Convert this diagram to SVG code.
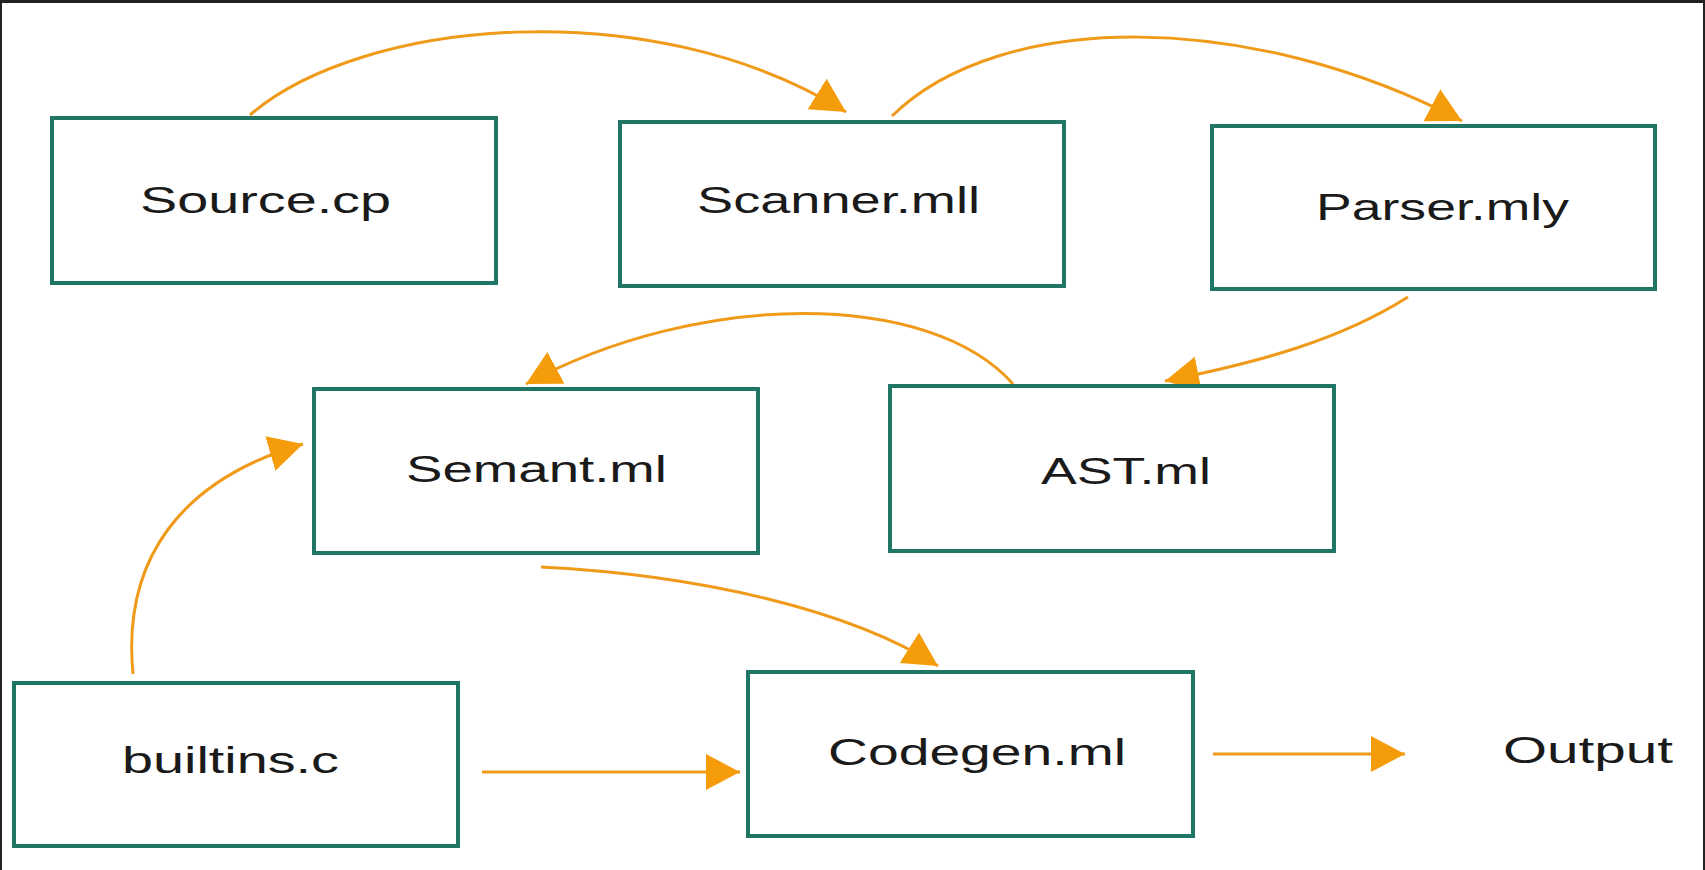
<svg xmlns="http://www.w3.org/2000/svg" width="1705" height="870" viewBox="0 0 1705 870">
  <style>
    .box { fill: #ffffff; stroke: #1f7665; stroke-width: 4; }
    .lbl { font-family: "Liberation Sans", Arial, sans-serif; font-size: 37px; fill: #1a1a1a; }
    .con { fill: none; stroke: #f09a1a; stroke-width: 3; }
  </style>
  <defs>
    <marker id="ah" markerUnits="userSpaceOnUse" markerWidth="36" markerHeight="38" refX="34" refY="18" orient="auto">
      <path d="M0,0 L34,18 L0,36 z" fill="#f59c0b"/>
    </marker>
  </defs>
  <rect x="0" y="0" width="1705" height="870" fill="#ffffff"/>
  <rect x="0" y="0" width="1705" height="3" fill="#222222"/>
  <rect x="0" y="0" width="2" height="870" fill="#222222"/>
  <rect x="1703" y="0" width="2" height="870" fill="#222222"/>

  <g id="connectors">
    <path class="con" d="M250,115 C360,20 650,-10 846,112" marker-end="url(#ah)"/>
    <path class="con" d="M892,116 C1000,10 1250,10 1462,121" marker-end="url(#ah)"/>
    <path class="con" d="M1408,297 C1340,340 1260,362 1165,381" marker-end="url(#ah)"/>
    <path class="con" d="M1013,384 C930,290 700,290 526,384" marker-end="url(#ah)"/>
    <path class="con" d="M133,674 C122,560 180,480 303,444" marker-end="url(#ah)"/>
    <path class="con" d="M541,567 C700,575 850,610 938,666" marker-end="url(#ah)"/>
    <path class="con" d="M482,772 L740,772" marker-end="url(#ah)"/>
    <path class="con" d="M1213,754 L1405,754" marker-end="url(#ah)"/>
  </g>

  <g id="source">
    <rect class="box" x="52" y="118" width="444" height="165"/>
    <text class="lbl" x="140" y="213" textLength="251" lengthAdjust="spacingAndGlyphs">Source.cp</text>
  </g>
  <g id="scanner">
    <rect class="box" x="620" y="122" width="444" height="164"/>
    <text class="lbl" x="697" y="213" textLength="283" lengthAdjust="spacingAndGlyphs">Scanner.mll</text>
  </g>
  <g id="parser">
    <rect class="box" x="1212" y="126" width="443" height="163"/>
    <text class="lbl" x="1316" y="220" textLength="253" lengthAdjust="spacingAndGlyphs">Parser.mly</text>
  </g>
  <g id="semant">
    <rect class="box" x="314" y="389" width="444" height="164"/>
    <text class="lbl" x="406" y="482" textLength="261" lengthAdjust="spacingAndGlyphs">Semant.ml</text>
  </g>
  <g id="ast">
    <rect class="box" x="890" y="386" width="444" height="165"/>
    <text class="lbl" x="1041" y="484" textLength="170" lengthAdjust="spacingAndGlyphs">AST.ml</text>
  </g>
  <g id="builtins">
    <rect class="box" x="14" y="683" width="444" height="163"/>
    <text class="lbl" x="122" y="773" textLength="217" lengthAdjust="spacingAndGlyphs">builtins.c</text>
  </g>
  <g id="codegen">
    <rect class="box" x="748" y="672" width="445" height="164"/>
    <text class="lbl" x="828" y="765" textLength="298" lengthAdjust="spacingAndGlyphs">Codegen.ml</text>
  </g>
  <g id="output">
    <text class="lbl" x="1503" y="763" textLength="170" lengthAdjust="spacingAndGlyphs">Output</text>
  </g>
</svg>
